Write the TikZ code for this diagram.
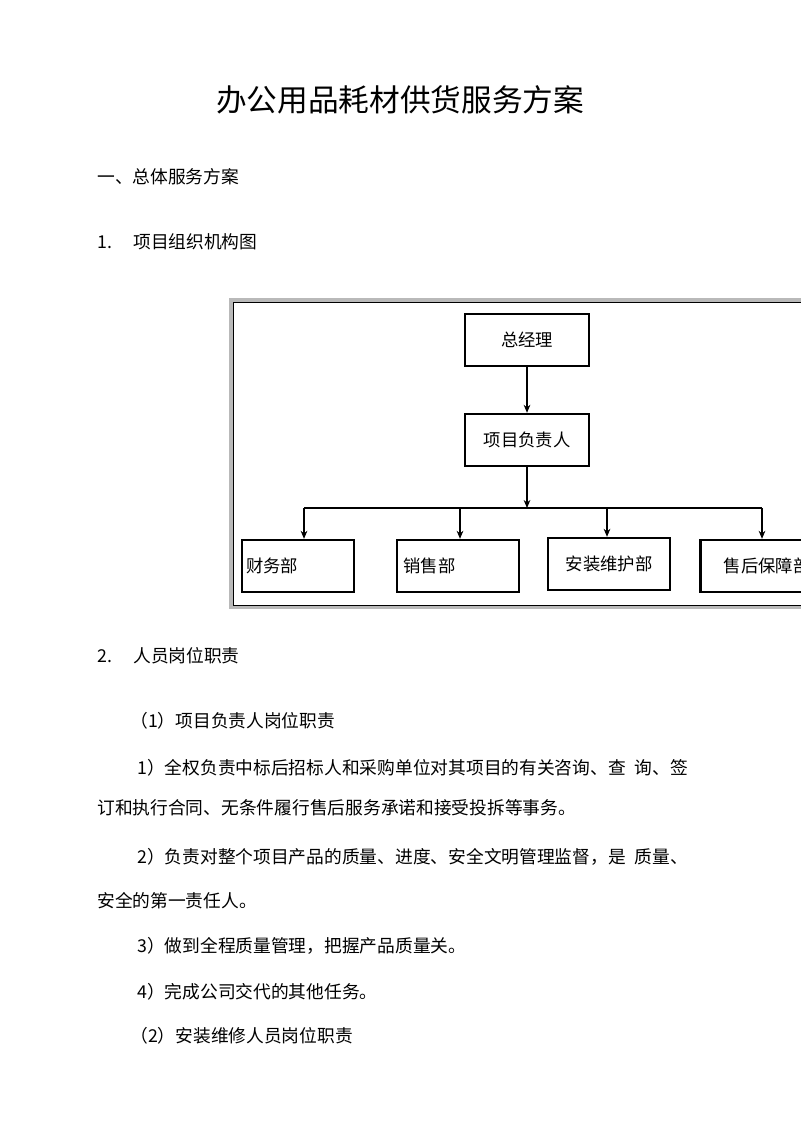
\documentclass[tikz,border=0pt]{standalone}
\usepackage{fontspec}
\setmainfont{Liberation Serif}
\newfontfamily\cjk{Noto Sans CJK SC}
\usetikzlibrary{positioning,arrows.meta}

\begin{document}
\begin{tikzpicture}[x=0.75pt,y=-0.75pt,
		box/.style = {draw, line width=1.8pt, minimum height=39pt, inner sep=0pt, font=\cjk\fontsize{13}{15}\selectfont},
		body/.style = {anchor=west, inner sep=0pt, font=\cjk\fontsize{13.3}{16}\selectfont},
		link/.style = {draw, thick, -{Stealth[length=6pt,width=5pt]}}]
		\useasboundingbox (0,0) rectangle (800,1130);
		\fill[white] (0,0) rectangle (800,1130);
		% title and headings
		\node (title) at (400,100) [inner sep=0pt, font=\cjk\fontsize{23}{27}\selectfont] {办公用品耗材供货服务方案};
		\node (h1) at (97,177) [body] {一、总体服务方案};
		\node (h2) at (97,242) [body] {1.\hspace{1.2em}项目组织机构图};
		% chart frame
		\draw[gray!55, line width=2.5pt] (231,300) rectangle (812,607);
		\draw[black, line width=0.6pt] (233,302) rectangle (810,605);
		\node (gm) at (527,340) [box, minimum width=93pt] {总经理};
		\node (pm) at (527,440) [box, minimum width=93pt] {项目负责人};
		\node (fin) at (298,566) [box, minimum width=84pt, align=left, text width=78pt] {财务部};
		\node (sal) at (458,566) [box, minimum width=91.5pt, align=left, text width=82pt] {销售部};
		\node (ins) at (609,564) [box, minimum width=91.5pt] {安装维护部};
		\node (aft) at (767,566) [box, minimum width=100pt] {售后保障部};
		\coordinate (bus) at (527,508);
		\draw[link] (gm) -- (pm);
		\draw[link] (pm) -- (bus);
		\draw[thick] (304,508) -- (762,508);
		\foreach \x/\t in {304/fin, 460/sal, 607/ins, 762/aft}
			\draw[link] (\x,508) -- (\x,0 |- \t.north);
		% text
		\node (h3) at (97,656) [body] {2.\hspace{1.2em}人员岗位职责};
		\node (p0) at (130,721) [body] {（1）项目负责人岗位职责};
		\node (p1) at (137,768) [body] {1）全权负责中标后招标人和采购单位对其项目的有关咨询、查\hspace{0.5em}询、签};
		\node (p1b) at (97,808) [body] {订和执行合同、无条件履行售后服务承诺和接受投拆等事务。};
		\node (p2) at (137,857) [body] {2）负责对整个项目产品的质量、进度、安全文明管理监督，是\hspace{0.5em}质量、};
		\node (p2b) at (97,901) [body] {安全的第一责任人。};
		\node (p3) at (137,946) [body] {3）做到全程质量管理，把握产品质量关。};
		\node (p4) at (137,992) [body] {4）完成公司交代的其他任务。};
		\node (p5) at (130,1036) [body] {（2）安装维修人员岗位职责};
	\end{tikzpicture}
\end{document}
